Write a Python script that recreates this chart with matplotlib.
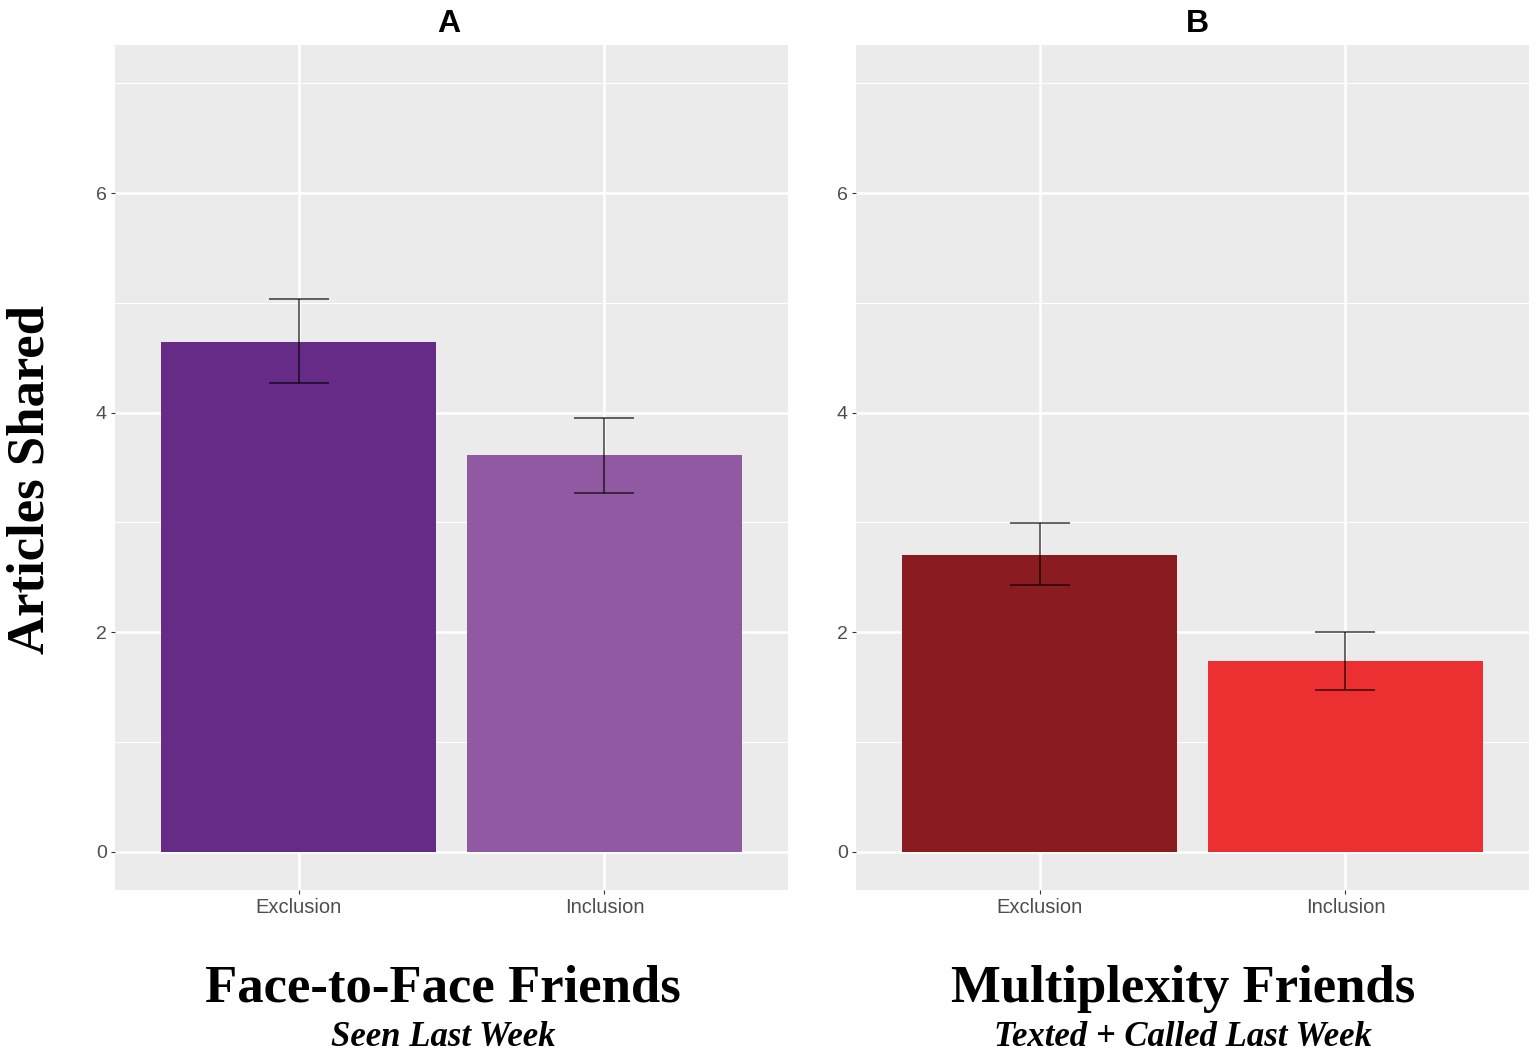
import matplotlib.pyplot as plt
import numpy as np

# data
conditions = ["Exclusion", "Inclusion"]
panel_titles = ["A", "B"]
group_titles = ["Face-to-Face Friends", "Multiplexity Friends"]
group_subtitles = ["Seen Last Week", "Texted + Called Last Week"]
means = [[4.64, 3.61], [2.70, 1.74]]
err_low = [[4.27, 3.27], [2.43, 1.47]]
err_high = [[5.04, 3.95], [2.99, 2.00]]
bar_colors = [["#662A87", "#9259A3"], ["#8A1B1E", "#EC2F30"]]
y_ticks = [0, 2, 4, 6]

W, H = 1538, 1058
fig = plt.figure(figsize=(W / 100, H / 100), dpi=100)

serif = ["Liberation Serif", "DejaVu Serif"]
sans = ["Liberation Sans", "DejaVu Sans"]

lefts = [115, 856]
ax_w = 673
top, bottom = 45, 890

for i in range(2):
    ax = fig.add_axes([lefts[i] / W, 1 - bottom / H, ax_w / W, (bottom - top) / H])
    ax.set_facecolor("#EBEBEB")
    x = np.arange(1, len(conditions) + 1)
    ax.bar(x, means[i], width=0.9, color=bar_colors[i], zorder=3)
    lo = np.array(means[i]) - np.array(err_low[i])
    hi = np.array(err_high[i]) - np.array(means[i])
    ax.errorbar(x, means[i], yerr=[lo, hi], fmt="none", ecolor="black",
                alpha=0.6, elinewidth=1.4, capsize=21.6, capthick=1.4, zorder=4)
    ax.set_xlim(0.4, 2.6)
    ax.set_ylim(-0.35, 7.35)
    ax.set_xticks(x)
    ax.set_xticklabels(conditions, family=sans, fontsize=14.5, color="#4D4D4D")
    ax.set_yticks(y_ticks)
    ax.set_yticklabels([str(t) for t in y_ticks], family=sans, fontsize=14, color="#4D4D4D")
    ax.set_yticks([1, 3, 5, 7], minor=True)
    ax.grid(which="major", color="white", linewidth=1.8, zorder=0)
    ax.grid(which="minor", axis="y", color="white", linewidth=0.8, zorder=0)
    ax.set_axisbelow(True)
    ax.tick_params(which="major", length=3, color="#333333", pad=3)
    ax.tick_params(which="minor", length=0)
    for s in ax.spines.values():
        s.set_visible(False)

# panel letters
letter_x = [449, 1197]
for i in range(2):
    fig.text(letter_x[i] / W, 1 - 32 / H, panel_titles[i], ha="center", va="baseline",
             family=sans, fontweight="bold", fontsize=23)

fig.text(31 / W, 1 - 480 / H, "Articles Shared", rotation=90, ha="center", va="center",
         family=serif, fontweight="bold", fontsize=38)

centers = [443, 1183]
for i in range(2):
    fig.text(centers[i] / W, 1 - 1002 / H, group_titles[i], ha="center", va="baseline",
             family=serif, fontweight="bold", fontsize=38)
    fig.text(centers[i] / W, 1 - 1046 / H, group_subtitles[i], ha="center", va="baseline",
             family=serif, fontweight="bold", style="italic", fontsize=25)

fig.savefig("out.png", dpi=100, facecolor="white")
